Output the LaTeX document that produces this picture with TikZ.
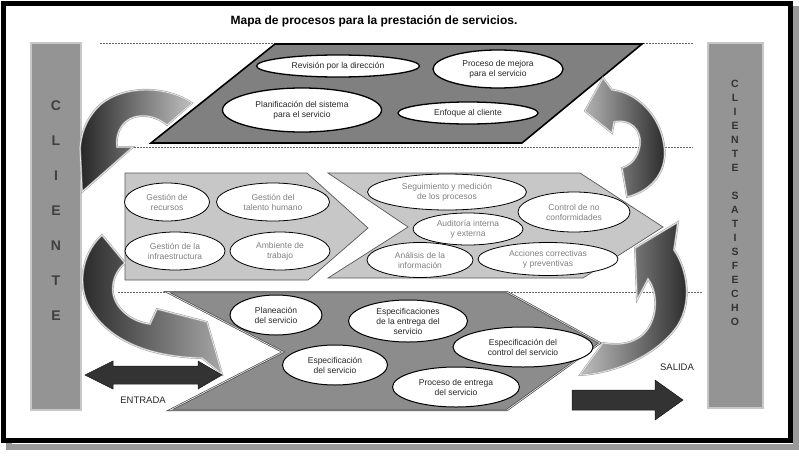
\documentclass[tikz,border=0pt]{standalone}
\usepackage{fontspec}
\setmainfont{Liberation Sans}
\usepackage{tikz}
\usetikzlibrary{shapes.geometric}
\tikzstyle{proc} = [ellipse, draw=black, fill=white, line width=1pt, inner sep=0pt, align=center, font=\fontsize{8.5}{10}\selectfont, text=black!85]
\tikzstyle{topproc} = [proc, line width=1.3pt]
\tikzstyle{supproc} = [proc, line width=0.8pt, text=black!50]
\tikzstyle{band} = [dash pattern=on 2pt off 1pt, black!60, line width=0.6pt]
\tikzstyle{bar} = [fill=black!42, draw=black!22, line width=1.5pt]
\tikzstyle{turn} = [draw=black!35, double=black!8, double distance=0.7pt, line width=0.6pt]
\tikzstyle{flat} = [fill=black!80, draw=black!90, line width=0.5pt]

\begin{document}
\begin{tikzpicture}[yscale=-1]
			\useasboundingbox (0pt,0pt) rectangle (799pt,455pt);
			\draw[black!40, line width=6pt] (9pt,9pt) rectangle (796pt,447pt);
			\draw[line width=5pt, fill=white] (3pt,3pt) rectangle (790pt,440pt);
			\node[font=\bfseries\fontsize{12}{14}\selectfont] (title) at (374pt,21pt) {Mapa de procesos para la prestación de servicios.};
			\draw[band] (100pt,43pt) -- (693pt,43pt);
			\draw[band] (113pt,147pt) -- (693pt,147pt);
			\draw[band] (118pt,292pt) -- (702pt,292pt);
			\filldraw[bar] (31pt,43pt) rectangle (81pt,410pt);
			\node[font=\bfseries\fontsize{14}{35}\selectfont, text=black!75, align=center] (cliente) at (56pt,211pt) {C\\L\\I\\E\\N\\T\\E};
			\filldraw[bar] (708pt,43pt) rectangle (763pt,408pt);
			\node[font=\bfseries\fontsize{10.5}{14}\selectfont, text=black!80, align=center] (satisfecho) at (735pt,203pt) {C\\L\\I\\E\\N\\T\\E\\ \\S\\A\\T\\I\\S\\F\\E\\C\\H\\O};
			\filldraw[fill=black!50, draw=black, line width=1.6pt] (275pt,44pt) -- (642pt,44pt) -- (522pt,143pt) -- (151pt,143pt) -- cycle;
			\filldraw[fill=black!22, draw=black!65, line width=0.7pt] (125pt,173pt) -- (307pt,173pt) -- (368pt,228pt) -- (308pt,280pt) -- (125pt,280pt) -- cycle;
			\filldraw[fill=black!22, draw=black!65, line width=0.7pt] (328pt,173pt) -- (580pt,173pt) -- (663pt,227pt) -- (583pt,278pt) -- (328pt,278pt) -- (408pt,227pt) -- cycle;
			\filldraw[fill=black!45, draw=black!75, double=black!15, double distance=0.8pt, line width=0.6pt] (167pt,292pt) -- (507pt,292pt) -- (600pt,343pt) -- (507pt,410pt) -- (170pt,410pt) -- (283pt,352pt) -- cycle;
			% direccion
			\node[topproc, minimum width=163pt, minimum height=22pt] (revision) at (338pt,66pt) {Revisión por la dirección};
			\node[topproc, minimum width=130pt, minimum height=38pt] (mejora) at (498pt,69pt) {Proceso de mejora\\para el servicio};
			\node[topproc, minimum width=159pt, minimum height=44pt] (planificacion) at (302pt,110pt) {Planificación del sistema\\para el servicio};
			\node[topproc, minimum width=140pt, minimum height=22pt] (enfoque) at (468pt,113pt) {Enfoque al cliente};
			% apoyo
			\node[supproc, minimum width=85pt, minimum height=38pt] (recursos) at (167pt,202pt) {Gestión de\\recursos};
			\node[supproc, minimum width=113pt, minimum height=38pt] (talento) at (273pt,202pt) {Gestión del\\talento humano};
			\node[supproc, minimum width=100pt, minimum height=38pt] (infraestructura) at (175pt,251pt) {Gestión de la\\infraestructura};
			\node[supproc, minimum width=100pt, minimum height=38pt] (ambiente) at (280pt,251pt) {Ambiente de\\trabajo};
			\node[supproc, minimum width=159pt, minimum height=36pt] (seguimiento) at (447pt,192pt) {Seguimiento y medición\\de los procesos};
			\node[supproc, minimum width=112pt, minimum height=40pt] (control) at (574pt,212pt) {Control de no\\conformidades};
			\node[supproc, minimum width=110pt, minimum height=32pt] (auditoria) at (468pt,229pt) {Auditoría interna\\y externa};
			\node[supproc, minimum width=106pt, minimum height=35pt] (analisis) at (420pt,260pt) {Análisis de la\\información};
			\node[supproc, minimum width=140pt, minimum height=33pt] (acciones) at (548pt,259pt) {Acciones correctivas\\y preventivas};
			% servicio
			\node[proc, minimum width=92pt, minimum height=40pt] (planeacion) at (276pt,315pt) {Planeación\\del servicio};
			\node[proc, minimum width=119pt, minimum height=42pt] (entrega) at (408pt,321pt) {Especificaciones\\de la entrega del\\servicio};
			\node[proc, minimum width=140pt, minimum height=40pt] (controlserv) at (523pt,347pt) {Especificación del\\control del servicio};
			\node[proc, minimum width=105pt, minimum height=40pt] (especificacion) at (335pt,365pt) {Especificación\\del servicio};
			\node[proc, minimum width=127pt, minimum height=40pt] (proceso) at (456pt,387pt) {Proceso de entrega\\del servicio};
			% flechas curvas
			\shade[turn, left color=black!85, right color=black!25] (192pt,103pt) .. controls (160pt,82pt) and (115pt,88pt) .. (97pt,108pt) .. controls (85pt,121pt) and (81pt,135pt) .. (80pt,148pt) -- (82pt,192pt) -- (133pt,147pt) -- (117pt,147pt) .. controls (115pt,130pt) and (125pt,117pt) .. (140pt,116pt) .. controls (150pt,115pt) and (160pt,119pt) .. (167pt,125pt) -- cycle;
			\shade[turn, left color=black!85, right color=black!35] (102pt,235pt) .. controls (80pt,255pt) and (76pt,290pt) .. (93pt,313pt) .. controls (110pt,338pt) and (145pt,357pt) .. (202pt,358pt) -- (222pt,374pt) -- (207pt,322pt) -- (157pt,309pt) -- (150pt,324pt) .. controls (130pt,322pt) and (110pt,305pt) .. (113pt,285pt) .. controls (114pt,276pt) and (119pt,268pt) .. (125pt,263pt) -- cycle;
			\shade[turn, left color=black!30, right color=black!85] (627pt,197pt) .. controls (655pt,190pt) and (668pt,168pt) .. (664pt,145pt) .. controls (660pt,115pt) and (636pt,92pt) .. (612pt,90pt) -- (603pt,78pt) -- (585pt,111pt) -- (612pt,133pt) -- (614pt,122pt) .. controls (630pt,118pt) and (642pt,130pt) .. (640pt,145pt) .. controls (638pt,158pt) and (631pt,165pt) .. (622pt,168pt) -- cycle;
			\shade[turn, left color=black!25, right color=black!85] (580pt,375pt) .. controls (620pt,373pt) and (660pt,352pt) .. (678pt,325pt) .. controls (692pt,302pt) and (688pt,270pt) .. (674pt,250pt) -- (678pt,222pt) -- (635pt,248pt) -- (637pt,300pt) -- (648pt,279pt) .. controls (660pt,295pt) and (657pt,325pt) .. (640pt,337pt) .. controls (628pt,345pt) and (615pt,345pt) .. (603pt,343pt) -- cycle;
			% entrada y salida
			\filldraw[flat] (85pt,375pt) -- (113pt,361pt) -- (113pt,366pt) -- (198pt,366pt) -- (198pt,361pt) -- (222pt,375pt) -- (198pt,389pt) -- (198pt,384pt) -- (113pt,384pt) -- (113pt,389pt) -- cycle;
			\node[font=\fontsize{9.5}{11}\selectfont, text=black!85] (entrada) at (143pt,400pt) {ENTRADA};
			\filldraw[flat] (572pt,390pt) -- (655pt,390pt) -- (655pt,380pt) -- (683pt,400pt) -- (655pt,420pt) -- (655pt,410pt) -- (572pt,410pt) -- cycle;
			\node[font=\fontsize{9.5}{11}\selectfont, text=black!85] (salida) at (677pt,367pt) {SALIDA};
		\end{tikzpicture}
\end{document}
